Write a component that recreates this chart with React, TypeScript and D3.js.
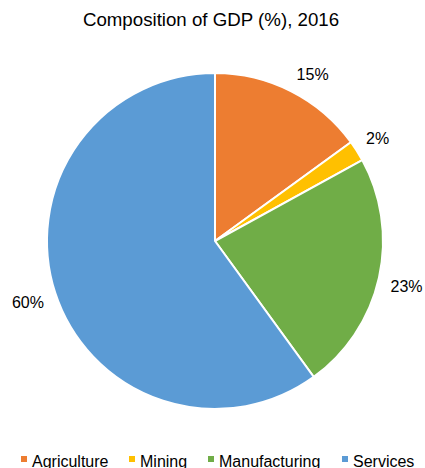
import React from "react";
import * as d3 from "d3";

const categories = ["Agriculture", "Mining", "Manufacturing", "Services"];
const values = [15, 2, 23, 60];
const labels = ["15%", "2%", "23%", "60%"];
const colors = ["#ED7D31", "#FFC000", "#70AD47", "#5B9BD5"];

const W = 425;
const H = 468;
const cx = 215;
const cy = 241;
const R = 168;
const FONT = "'Liberation Sans', Arial, sans-serif";

export default function App() {
  const pie = d3.pie<number>().sort(null).value((d) => d)(values);
  const arc = d3.arc<d3.PieArcDatum<number>>().innerRadius(0).outerRadius(R);
  const legendX = [21, 129, 208, 342];
  return (
    <svg
      width={W}
      height={H}
      style={{ position: "absolute", left: 0, top: 0, fontFamily: FONT }}
    >
      <rect width={W} height={H} fill="#fff" />
      <text x={211} y={26} textAnchor="middle" fontSize={18.7} fill="#000">
        Composition of GDP (%), 2016
      </text>
      <g transform={`translate(${cx},${cy})`}>
        {pie.map((p, i) => (
          <path key={i} d={arc(p) || ""} fill={colors[i]} stroke="#fff" strokeWidth={2} />
        ))}
        {pie.map((p, i) => {
          const a = (p.startAngle + p.endAngle) / 2;
          const s = Math.sin(a);
          const c = -Math.cos(a);
          const hw = labels[i].length * 5.3;
          const hh = 6;
          const r = R + 12;
          const x = s * r + Math.sign(s) * hw;
          const y = c * r + Math.sign(c) * hh;
          return (
            <text key={i} x={x} y={y} dy="0.35em" textAnchor="middle" fontSize={16} fill="#000">
              {labels[i]}
            </text>
          );
        })}
      </g>
      {categories.map((c, i) => (
        <g key={c}>
          <rect x={legendX[i]} y={456} width={6} height={6} fill={colors[i]} />
          <text x={legendX[i] + 11} y={467} fontSize={16} fill="#000">
            {c}
          </text>
        </g>
      ))}
    </svg>
  );
}
